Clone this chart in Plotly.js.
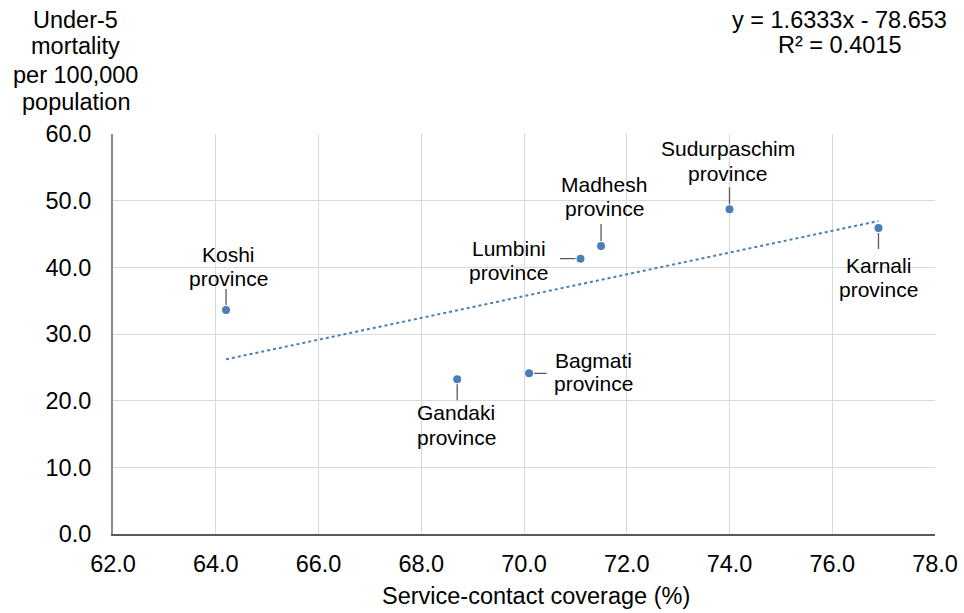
<!DOCTYPE html>
<html>
<head>
<meta charset="utf-8">
<script src="https://cdn.plot.ly/plotly-3.0.1.min.js"></script>
<style>html,body{margin:0;padding:0;background:#fff;}#chart{width:964px;height:613px;}</style>
</head>
<body>
<div id="chart"></div>
<script>
// Data
const provinces = ["Koshi province", "Gandaki province", "Bagmati province", "Lumbini province", "Madhesh province", "Sudurpaschim province", "Karnali province"];
const coverage = [64.2, 68.7, 70.1, 71.1, 71.5, 74.0, 76.9];
const mortality = [33.6, 23.2, 24.1, 41.3, 43.2, 48.7, 45.9];
const slope = 1.6333;
const intercept = -78.653;
const rSquared = 0.4015;
const xTicks = [62, 64, 66, 68, 70, 72, 74, 76, 78];
const yTicks = [0, 10, 20, 30, 40, 50, 60];
const yTitleLines = ["Under-5", "mortality", "per 100,000", "population"];
const xTitle = "Service-contact coverage (%)";

// Label placement (pixel offsets, styling only): [textDx, line1Dy, line2Dy, leaderAx, leaderAy]
const labelPlacement = {
  "Koshi province":        [2.5, -56, -32,   0, -22],
  "Gandaki province":      [-1,   33,  58,   0,  22],
  "Bagmati province":      [64,  -13,  10,  18,   0],
  "Lumbini province":      [-72, -10,  14, -21,   0],
  "Madhesh province":      [3,   -62, -38,   0, -23],
  "Sudurpaschim province": [-2,  -61, -36,   0, -23],
  "Karnali province":      [0,    37,  61,   0,  22]
};

const xMin = Math.min(...coverage), xMax = Math.max(...coverage);
const trendX = [xMin, xMax];
const trendY = trendX.map(x => slope * x + intercept);

const blue = '#4a7ebb';
const fam = 'Liberation Sans, Arial, sans-serif';
const labelFont = {family: fam, size: 21, color: '#000'};
const bigFont = {family: fam, size: 23.5, color: '#000'};

const traces = [
  {x: trendX, y: trendY, mode: 'lines', type: 'scatter',
   line: {color: blue, width: 2, dash: 'dot'}, hoverinfo: 'skip', showlegend: false},
  {x: coverage, y: mortality, mode: 'markers', type: 'scatter', text: provinces,
   marker: {color: blue, size: 8}, showlegend: false}
];

const annotations = [];
provinces.forEach((p, i) => {
  const [dx, d1, d2, ax, ay] = labelPlacement[p];
  const parts = p.split(' ');
  annotations.push({x: coverage[i], y: mortality[i], xref: 'x', yref: 'y', text: parts[0],
    showarrow: false, xshift: dx, yshift: -d1, font: labelFont, xanchor: 'center', yanchor: 'middle'});
  annotations.push({x: coverage[i], y: mortality[i], xref: 'x', yref: 'y', text: parts[1],
    showarrow: false, xshift: dx, yshift: -d2, font: labelFont, xanchor: 'center', yanchor: 'middle'});
  annotations.push({x: coverage[i], y: mortality[i], xref: 'x', yref: 'y', text: ' ',
    showarrow: true, arrowhead: 0, arrowwidth: 1.3, arrowcolor: '#595959',
    ax: ax, ay: ay, standoff: 5, font: {family: fam, size: 1}, borderpad: 0});
});

const yTitleShifts = [-19.5, -45.5, -75, -102];
yTitleLines.forEach((t, i) => {
  annotations.push({xref: 'paper', yref: 'paper', x: -0.0455, y: 1.0, yanchor: 'middle',
    yshift: 134 + yTitleShifts[i], xanchor: 'center', text: t, showarrow: false, font: bigFont});
});
const eqLines = ['y = ' + slope.toFixed(4) + 'x - ' + Math.abs(intercept).toFixed(3),
                 'R² = ' + rSquared.toFixed(4)];
const eqShifts = [-19.5, -45];
eqLines.forEach((t, i) => {
  annotations.push({xref: 'paper', yref: 'paper', x: 0.8844, y: 1.0, yanchor: 'middle',
    yshift: 134 + eqShifts[i], xanchor: 'center', text: t, showarrow: false, font: bigFont});
});
annotations.push({xref: 'paper', yref: 'paper', x: 0.5146, y: 0, yanchor: 'middle', yshift: -62,
  xanchor: 'center', text: xTitle, showarrow: false, font: bigFont});

const layout = {
  width: 964, height: 613,
  margin: {l: 113, r: 29, t: 134, b: 79},
  paper_bgcolor: '#fff', plot_bgcolor: '#fff',
  font: bigFont,
  xaxis: {range: [62, 78], tickvals: xTicks, ticktext: xTicks.map(v => v.toFixed(1)),
          showgrid: true, gridcolor: '#d9d9d9', gridwidth: 1,
          showline: true, linecolor: '#595959', linewidth: 1.5,
          zeroline: false, ticks: '', ticklabelstandoff: 8, tickfont: bigFont},
  yaxis: {range: [0, 60], tickvals: yTicks, ticktext: yTicks.map(v => v.toFixed(1)),
          showgrid: true, gridcolor: '#d9d9d9', gridwidth: 1,
          showline: true, linecolor: '#8c8c8c', linewidth: 2,
          zeroline: false, ticks: '', ticklabelstandoff: 15, tickfont: bigFont},
  annotations: annotations,
  showlegend: false
};

Plotly.newPlot('chart', traces, layout, {displayModeBar: false, staticPlot: true});
</script>
</body>
</html>
